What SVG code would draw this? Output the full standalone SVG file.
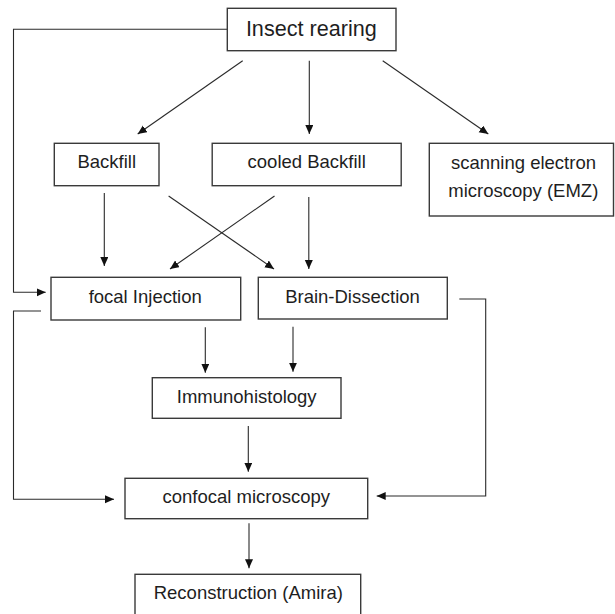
<svg xmlns="http://www.w3.org/2000/svg" width="615" height="614" viewBox="0 0 615 614">
<style>
  .box { fill: #ffffff; stroke: #3a3a3a; stroke-width: 1.4; }
  .lbl { font-family: "Liberation Sans", Arial, sans-serif; font-size: 18.5px; fill: #1e1e1e; text-anchor: middle; }
  .big { font-size: 21.6px; }
  .conn { fill: none; stroke: #2a2a2a; stroke-width: 1.1; }
</style>
<defs>
  <marker id="arr" markerUnits="userSpaceOnUse" markerWidth="10" markerHeight="9" refX="9" refY="4" orient="auto">
    <path d="M0,0 L9,4 L0,8 z" fill="#111"/>
  </marker>
</defs>
<rect width="615" height="614" fill="#ffffff"/>
<g id="connectors">
  <polyline class="conn" points="227.3,29.3 13.5,29.3 13.5,292.3 45.7,292.3" marker-end="url(#arr)"/>
  <line class="conn" x1="242.7" y1="60.7" x2="137.7" y2="134" marker-end="url(#arr)"/>
  <line class="conn" x1="309.3" y1="60.7" x2="309.3" y2="134" marker-end="url(#arr)"/>
  <line class="conn" x1="382.7" y1="60.7" x2="488.3" y2="134" marker-end="url(#arr)"/>
  <line class="conn" x1="104.3" y1="193" x2="104.3" y2="266" marker-end="url(#arr)"/>
  <line class="conn" x1="168.6" y1="196" x2="274" y2="269" marker-end="url(#arr)"/>
  <line class="conn" x1="274.5" y1="196" x2="170" y2="269" marker-end="url(#arr)"/>
  <line class="conn" x1="308.8" y1="197" x2="308.8" y2="269" marker-end="url(#arr)"/>
  <line class="conn" x1="205.3" y1="327.3" x2="205.3" y2="372.7" marker-end="url(#arr)"/>
  <line class="conn" x1="293" y1="326.7" x2="293" y2="371.7" marker-end="url(#arr)"/>
  <line class="conn" x1="248.3" y1="426" x2="248.3" y2="471.7" marker-end="url(#arr)"/>
  <polyline class="conn" points="41,311 13.5,311 13.5,499.3 114,499.3" marker-end="url(#arr)"/>
  <polyline class="conn" points="459.3,299 485.7,299 485.7,496 376.7,496" marker-end="url(#arr)"/>
  <line class="conn" x1="249" y1="523.3" x2="249" y2="568.3" marker-end="url(#arr)"/>
</g>
<g id="insect-rearing">
  <rect class="box" x="227.3" y="8.3" width="168.7" height="42.4"/>
  <text class="lbl big" x="311.3" y="36">Insect rearing</text>
</g>
<g id="backfill">
  <rect class="box" x="54.3" y="143.3" width="104.7" height="42.4"/>
  <text class="lbl" x="106.7" y="168.3">Backfill</text>
</g>
<g id="cooled-backfill">
  <rect class="box" x="212.2" y="143.3" width="189" height="42.4"/>
  <text class="lbl" x="306.7" y="168.3">cooled Backfill</text>
</g>
<g id="sem">
  <rect class="box" x="429.3" y="143.3" width="184.2" height="72.7"/>
  <text class="lbl" x="523.5" y="169.3">scanning electron</text>
  <text class="lbl" x="523.3" y="196.7">microscopy (EMZ)</text>
</g>
<g id="focal-injection">
  <rect class="box" x="51" y="277.3" width="189.7" height="42.7"/>
  <text class="lbl" x="145.2" y="302.7">focal Injection</text>
</g>
<g id="brain-dissection">
  <rect class="box" x="258.3" y="277.3" width="189" height="41.7"/>
  <text class="lbl" x="352.5" y="302.7">Brain-Dissection</text>
</g>
<g id="immunohistology">
  <rect class="box" x="152.3" y="377.7" width="188.7" height="40.6"/>
  <text class="lbl" x="246.7" y="403.3">Immunohistology</text>
</g>
<g id="confocal-microscopy">
  <rect class="box" x="125" y="478.3" width="242.7" height="40.4"/>
  <text class="lbl" x="246.3" y="503.3">confocal microscopy</text>
</g>
<g id="reconstruction">
  <rect class="box" x="135" y="574.3" width="225.7" height="50"/>
  <text class="lbl" x="248.3" y="599.3">Reconstruction (Amira)</text>
</g>
</svg>
